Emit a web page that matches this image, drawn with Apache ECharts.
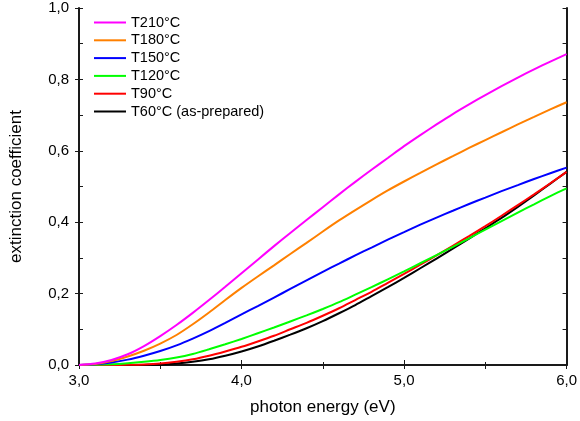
<!DOCTYPE html>
<html>
<head>
<meta charset="utf-8">
<script src="https://cdn.jsdelivr.net/npm/echarts@6/dist/echarts.min.js"></script>
<style>
html,body{margin:0;padding:0;background:#fff;}
#chart{width:580px;height:421px;}
</style>
</head>
<body>
<div id="chart"></div>
<script>
var energy = [3.0, 3.1, 3.2, 3.3, 3.4, 3.5, 3.6, 3.7, 3.8, 3.9, 4.0, 4.1, 4.2, 4.3, 4.4, 4.5, 4.6, 4.7, 4.8, 4.9, 5.0, 5.1, 5.2, 5.3, 5.4, 5.5, 5.6, 5.7, 5.8, 5.9, 6.0];
var seriesNames = ['T210°C', 'T180°C', 'T150°C', 'T120°C', 'T90°C', 'T60°C (as-prepared)'];
var seriesColors = ['#ff00ff', '#ff8000', '#0000ff', '#00ff00', '#ff0000', '#000000'];
var k210 = [0, 0.004, 0.014, 0.03, 0.053, 0.081, 0.112, 0.146, 0.182, 0.219, 0.257, 0.295, 0.333, 0.37, 0.406, 0.442, 0.478, 0.513, 0.547, 0.58, 0.613, 0.644, 0.674, 0.703, 0.73, 0.756, 0.781, 0.805, 0.828, 0.85, 0.871];
var k180 = [0, 0.003, 0.011, 0.024, 0.04, 0.06, 0.084, 0.114, 0.147, 0.182, 0.216, 0.248, 0.279, 0.311, 0.342, 0.374, 0.405, 0.434, 0.462, 0.489, 0.514, 0.538, 0.562, 0.585, 0.608, 0.63, 0.652, 0.674, 0.695, 0.716, 0.736];
var k150 = [0, 0.002, 0.007, 0.015, 0.026, 0.039, 0.055, 0.074, 0.095, 0.118, 0.142, 0.165, 0.189, 0.213, 0.237, 0.261, 0.284, 0.307, 0.329, 0.351, 0.372, 0.393, 0.413, 0.432, 0.451, 0.469, 0.487, 0.504, 0.521, 0.537, 0.553];
var k120 = [0, 0.0005, 0.002, 0.005, 0.009, 0.014, 0.021, 0.031, 0.044, 0.058, 0.073, 0.089, 0.105, 0.122, 0.139, 0.157, 0.176, 0.197, 0.218, 0.24, 0.262, 0.285, 0.308, 0.331, 0.355, 0.379, 0.403, 0.427, 0.45, 0.473, 0.495];
var k90 = [0, 0, 0, 0.0005, 0.0015, 0.004, 0.009, 0.016, 0.026, 0.038, 0.051, 0.066, 0.082, 0.1, 0.118, 0.138, 0.159, 0.182, 0.205, 0.23, 0.255, 0.281, 0.307, 0.334, 0.361, 0.389, 0.418, 0.448, 0.478, 0.509, 0.541];
var k60 = [0, 0, 0, 0, 0.0003, 0.001, 0.004, 0.009, 0.016, 0.026, 0.038, 0.052, 0.068, 0.085, 0.103, 0.123, 0.145, 0.168, 0.193, 0.218, 0.244, 0.271, 0.298, 0.326, 0.354, 0.383, 0.412, 0.443, 0.475, 0.508, 0.541];
var allK = [k210, k180, k150, k120, k90, k60];

function pairs(ys){ return energy.map(function(x,i){ return [x, ys[i]]; }); }
function comma(v){ return v.toFixed(1).replace('.', ','); }

var FONT = 'Liberation Sans, Arial, sans-serif';
var AX = '#1a1a1a';

var series = seriesNames.map(function(name, i){
  return {
    name: name, type: 'line', data: pairs(allK[i]),
    xAxisIndex: 0, yAxisIndex: 0,
    symbol: 'none', smooth: 0.3,
    lineStyle: {color: seriesColors[i], width: 2},
    itemStyle: {color: seriesColors[i]},
    z: 10 - i
  };
});

var chart = echarts.init(document.getElementById('chart'), null, {renderer: 'canvas'});
chart.setOption({
  animation: false,
  backgroundColor: '#ffffff',
  grid: {left: 79, right: 9, top: 8, bottom: 56, containLabel: false},
  legend: {
    orient: 'vertical', left: 89, top: 10,
    icon: 'rect', itemWidth: 32, itemHeight: 2, itemGap: 2.8,
    textStyle: {fontFamily: FONT, fontSize: 14.5, color: '#000', lineHeight: 15},
    data: seriesNames
  },
  xAxis: [{
    type: 'value', min: 3, max: 6, interval: 1, position: 'bottom',
    name: 'photon energy (eV)', nameLocation: 'middle', nameGap: 34,
    nameTextStyle: {fontFamily: FONT, fontSize: 17, color: '#000'},
    axisLine: {show: true, lineStyle: {color: AX, width: 2}},
    axisTick: {show: true, inside: true, length: 5, lineStyle: {color: AX, width: 1}},
    minorTick: {show: true, splitNumber: 2, length: 3, lineStyle: {color: AX, width: 1}},
    axisLabel: {formatter: comma, margin: 8, fontFamily: FONT, fontSize: 15, color: '#000'},
    splitLine: {show: false}
  }, {
    type: 'value', min: 3, max: 6, interval: 0.5, position: 'top',
    axisLine: {show: true, lineStyle: {color: AX, width: 2}},
    axisTick: {show: true, inside: true, length: 4, lineStyle: {color: AX, width: 1}},
    axisLabel: {show: false}, splitLine: {show: false}
  }],
  yAxis: [{
    type: 'value', min: 0, max: 1, interval: 0.2, position: 'left',
    name: 'extinction coefficient', nameLocation: 'middle', nameGap: 54,
    nameTextStyle: {fontFamily: FONT, fontSize: 17, color: '#000'},
    axisLine: {show: true, lineStyle: {color: AX, width: 2}},
    axisTick: {show: true, inside: true, length: 4, lineStyle: {color: AX, width: 1}},
    minorTick: {show: true, splitNumber: 2, length: 4, lineStyle: {color: AX, width: 1}},
    axisLabel: {formatter: comma, margin: 10, fontFamily: FONT, fontSize: 15, color: '#000'},
    splitLine: {show: false}
  }, {
    type: 'value', min: 0, max: 1, interval: 0.2, position: 'left', offset: 0,
    axisLine: {show: false},
    axisTick: {show: true, inside: false, length: 4, lineStyle: {color: AX, width: 1}},
    axisLabel: {show: false}, splitLine: {show: false}
  }, {
    type: 'value', min: 0, max: 1, interval: 0.1, position: 'right',
    axisLine: {show: true, lineStyle: {color: AX, width: 2}},
    axisTick: {show: true, inside: true, length: 4, lineStyle: {color: AX, width: 1}},
    axisLabel: {show: false}, splitLine: {show: false}
  }],
  series: series
});
</script>
</body>
</html>
